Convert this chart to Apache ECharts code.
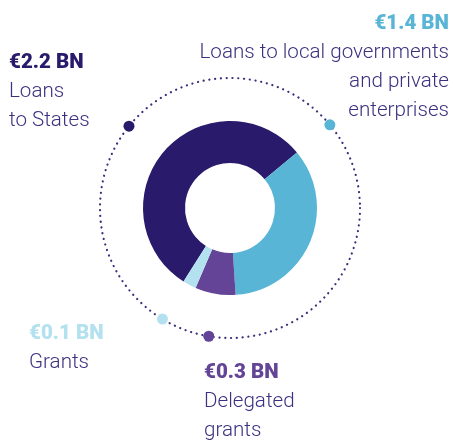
<!DOCTYPE html>
<html>
<head>
<meta charset="utf-8">
<script src="https://cdn.jsdelivr.net/npm/echarts@6/dist/echarts.min.js"></script>
<style>
  html, body { margin: 0; padding: 0; background: #fff; }
  #main { width: 453px; height: 440px; }
</style>
</head>
<body>
<div id="main"></div>
<script>
// data
var names = ['Loans to States', 'Loans to local governments and private enterprises', 'Delegated grants', 'Grants'];
var values = [2.2, 1.4, 0.3, 0.1];
var colors = ['#291a6c', '#59b5d6', '#634496', '#b4e1ef'];
// angle of each marker dot on the dotted ring (degrees, counter-clockwise from 3 o'clock)
var markerAngles = [141, 39.8, 260.6, 238.7];
var valueLabels = ['€2.2 BN', '€1.4 BN', '€0.3 BN', '€0.1 BN'];
var textLines = [['Loans', 'to States'], ['Loans to local governments', 'and private', 'enterprises'], ['Delegated', 'grants'], ['Grants']];

var myChart = echarts.init(document.getElementById('main'));

var textColor = '#3b3180';
var font = '300 20.6px Roboto';
var boldFont = '900 20.5px Roboto';

// label blocks: x, baseline of the value line, align
var blocks = [
    {x: 9, y: 70, align: 'left'},
    {x: 449, y: 31, align: 'right'},
    {x: 204, y: 380, align: 'left'},
    {x: 29, y: 341, align: 'left'}
];
var lineH = 29;
var graphics = [];
blocks.forEach(function (b, i) {
    graphics.push({
        type: 'text', x: b.x, y: b.y - 7,
        style: {text: valueLabels[i], font: boldFont, fill: colors[i], align: b.align, verticalAlign: 'middle'}
    });
    textLines[i].forEach(function (t, j) {
        graphics.push({
            type: 'text', x: b.x, y: b.y - 7 + lineH * (j + 1),
            style: {text: t, font: font, fill: textColor, align: b.align, verticalAlign: 'middle'}
        });
    });
});

option = {
    animation: false,
    polar: {center: [230, 208], radius: 130},
    angleAxis: {
        type: 'value', min: 0, max: 360, startAngle: 0, clockwise: false,
        axisLine: {show: true, lineStyle: {color: '#3a2f7c', width: 2.2, type: [0.1, 5.7], cap: 'round'}},
        axisTick: {show: false}, axisLabel: {show: false}, splitLine: {show: false}
    },
    radiusAxis: {
        type: 'value', min: 0, max: 1,
        axisLine: {show: false}, axisTick: {show: false}, axisLabel: {show: false}, splitLine: {show: false}
    },
    graphic: graphics,
    series: [
        {
            type: 'pie',
            center: [230, 208],
            radius: [45, 87],
            startAngle: 237.7,
            clockwise: true,
            label: {show: false},
            labelLine: {show: false},
            silent: true,
            data: values.map(function (v, i) {
                return {name: names[i], value: v, itemStyle: {color: colors[i]}};
            })
        },
        {
            type: 'scatter',
            coordinateSystem: 'polar',
            symbolSize: 11,
            silent: true,
            z: 5,
            data: markerAngles.map(function (a, i) {
                return {value: [1, a], itemStyle: {color: colors[i], opacity: 1}};
            })
        }
    ]
};
myChart.setOption(option);
</script>
</body>
</html>
